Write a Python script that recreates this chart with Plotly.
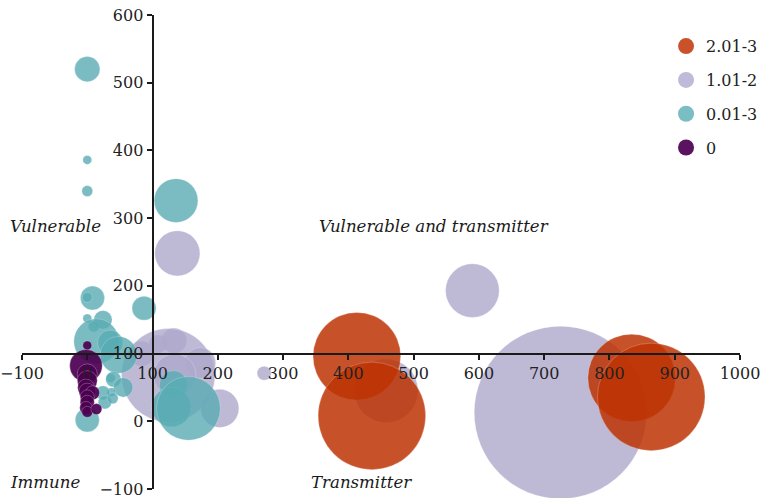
import plotly.graph_objects as go

# groups in legend order
groups = ["2.01-3", "1.01-2", "0.01-3", "0"]
group_colors = {
    "2.01-3": "rgb(190,52,4)",
    "1.01-2": "rgb(174,169,205)",
    "0.01-3": "rgb(89,172,180)",
    "0": "rgb(76,0,81)",
}
group_opacity = {"2.01-3": 0.85, "1.01-2": 0.8, "0.01-3": 0.8, "0": 0.92}

# bubbles: x, y, weight (bubble area)
orange_x = [413, 436, 834, 864]
orange_y = [96, 8, 64, 36]
orange_w = [38.4, 57.8, 38.4, 57.8]

lavender_x = [458, 590, 725, 83, 108, 133, 124, 173, 134, 203, 271, 138]
lavender_y = [45, 193, 13, 100, 114, 119, 68, 86, 68, 19, 71, 248]
lavender_w = [20.3, 14.4, 148.8, 3.2, 1.7, 3.2, 43.6, 4.8, 9.0, 7.3, 1.0, 10.2]

teal_x = [0, 0, 0, 8, 0, 0, 24, 10, 14, 35, 48, 0, 36, 40, 55, 37, 24, 27, 39,
          87, 136, 132, 129, 155]
teal_y = [520, 386, 340, 182, 183, 152, 150, 140, 118, 116, 98, 2, 64, 62, 50,
          43, 42, 28, 34, 167, 326, 54, 21, 19]
teal_w = [3.2, 0.4, 0.6, 2.9, 0.5, 0.4, 1.7, 0.6, 10.2, 3.2, 6.8, 2.9, 0.4, 1.2,
          1.9, 0.4, 1.0, 0.9, 0.6, 2.9, 9.6, 4.0, 7.8, 20.3]

purple_x = [0, -2, 0, 0, -2, 0, 8, 0, 0, -2, 0, 14]
purple_y = [112, 82, 70, 60, 50, 44, 42, 36, 28, 20, 14, 18]
purple_w = [0.4, 5.3, 2.0, 2.0, 1.4, 1.4, 1.0, 1.0, 1.0, 0.8, 0.6, 0.6]

x_ticks = [-100, 0, 100, 200, 300, 400, 500, 600, 700, 800, 900, 1000]
y_ticks = [-100, 0, 100, 200, 300, 400, 500, 600]

FONT = "DejaVu Serif"

fig = go.Figure()

series = [
    ("1.01-2", lavender_x, lavender_y, lavender_w),
    ("2.01-3", orange_x, orange_y, orange_w),
    ("0.01-3", teal_x, teal_y, teal_w),
    ("0", purple_x, purple_y, purple_w),
]
for name, xs, ys, ws in series:
    fig.add_trace(
        go.Scatter(
            x=xs,
            y=ys,
            mode="markers",
            name=name,
            showlegend=False,
            cliponaxis=False,
            marker=dict(
                color=group_colors[name],
                opacity=group_opacity[name],
                size=ws,
                sizemode="area",
                sizeref=0.01,
                line=dict(color="rgba(255,255,255,0.45)", width=0.6),
            ),
        )
    )

# legend entries
for name in groups:
    fig.add_trace(
        go.Scatter(
            x=[None],
            y=[None],
            mode="markers",
            name=name,
            legendgroup=name,
            marker=dict(color=group_colors[name], opacity=group_opacity[name], size=18),
        )
    )

# quadrant captions (paper x, data y)
quad_font = dict(family=FONT, size=16.6, color="#1a1a1a")
for text, qx, qy in [
    ("Vulnerable", -0.0195, 287),
    ("Vulnerable and transmitter", 0.411, 287),
    ("Immune", -0.0195, -91),
    ("Transmitter", 0.400, -91),
]:
    fig.add_annotation(
        x=qx, y=qy, xref="paper", yref="y",
        text=f"<i>{text}</i>", showarrow=False,
        xanchor="left", yanchor="middle",
        font=quad_font,
    )

axis_common = dict(
    showgrid=False,
    zeroline=False,
    showline=True,
    linecolor="#1a1a1a",
    linewidth=2,
    ticks="outside",
    ticklen=5,
    tickwidth=1.5,
    tickcolor="#1a1a1a",
    tickfont=dict(family=FONT, size=16, color="#222"),
    ticklabeloverflow="allow",
    anchor="free",
    automargin=False,
    layer="above traces",
)

fig.update_layout(
    width=774,
    height=498,
    margin=dict(l=22, r=34, t=15, b=9),
    plot_bgcolor="white",
    paper_bgcolor="white",
    xaxis=dict(range=[-100, 1000], tickvals=x_ticks, position=2 / 7, **axis_common),
    yaxis=dict(range=[-100, 600], tickvals=y_ticks, position=200 / 1100, **axis_common),
    legend=dict(
        x=0.897, y=0.97, xanchor="left", yanchor="top",
        font=dict(family=FONT, size=16, color="#222"),
        tracegroupgap=10,
        bgcolor="rgba(0,0,0,0)",
    ),
)

# drop the default 8px page margin so the figure sits at the window origin
fig.write_html(
    "out.html",
    config={"displayModeBar": False},
    post_script="document.body.style.margin = '0';",
)
